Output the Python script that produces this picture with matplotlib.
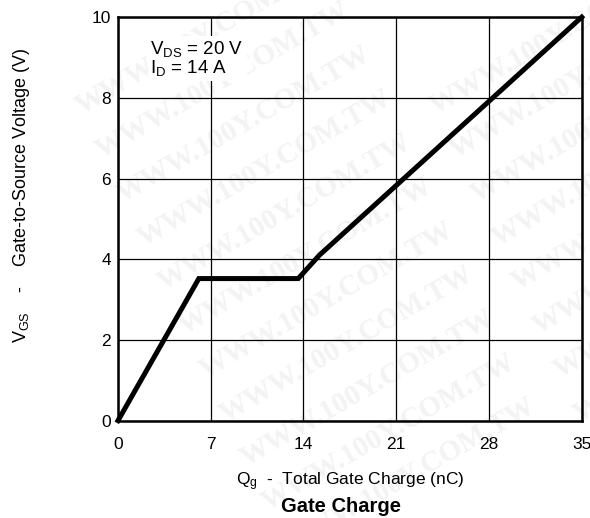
import matplotlib
matplotlib.use("Agg")
import matplotlib.pyplot as plt

plt.rcParams['font.family'] = ['Liberation Sans', 'DejaVu Sans']
plt.rcParams['mathtext.fontset'] = 'custom'
plt.rcParams['mathtext.rm'] = 'Liberation Sans'
plt.rcParams['mathtext.it'] = 'Liberation Sans:italic'

# gate charge curve
qg = [0, 6.1, 13.6, 15.2, 35]
vgs = [0, 3.52, 3.52, 4.1, 10]

x_ticks = [0, 7, 14, 21, 28, 35]
y_ticks = [0, 2, 4, 6, 8, 10]

fig = plt.figure(figsize=(5.9, 5.18), dpi=100)

# faint watermark behind everything
wm = "WWW.100Y.COM.TW"
for i in range(11):
    fig.text(0.12 + 0.035 * i, 0.93 - 0.085 * i, wm, rotation=30,
             fontsize=21, family='Liberation Serif', weight='bold',
             color='#f3f3f3', ha='left', va='center', zorder=-5)
for i in range(9):
    fig.text(0.72 + 0.035 * i, 0.93 - 0.085 * i, wm, rotation=30,
             fontsize=21, family='Liberation Serif', weight='bold',
             color='#f3f3f3', ha='left', va='center', zorder=-5)

ax = fig.add_axes([0.2, 0.188, 0.786, 0.779])
ax.set_zorder(1)
ax.patch.set_alpha(0)
ax.plot(qg, vgs, color='black', linewidth=3.6, solid_joinstyle='miter',
        clip_on=False, zorder=3)

ax.set_xlim(0, 35)
ax.set_ylim(0, 10)
ax.set_xticks(x_ticks)
ax.set_yticks(y_ticks)
ax.tick_params(length=0, labelsize=12.5)
ax.tick_params(axis='x', pad=12)
ax.tick_params(axis='y', pad=5)
ax.grid(color='black', linewidth=0.9)
for s in ax.spines.values():
    s.set_linewidth(1.8)

ax.text(0.07, 0.945, "$\\mathrm{V_{DS}}$ = 20 V\n$\\mathrm{I_D}$ = 14 A",
        transform=ax.transAxes, fontsize=13.5, va='top', ha='left',
        linespacing=0.9,
        bbox=dict(facecolor='white', edgecolor='none', pad=2), zorder=4)

ax.set_xlabel("$\\mathrm{Q_g}$  -  Total Gate Charge (nC)", fontsize=12.5,
              labelpad=13)
ax.set_ylabel("$\\mathrm{V_{GS}}$    -    Gate-to-Source Voltage (V)",
              fontsize=13)
ax.yaxis.set_label_coords(-0.185, 0.56)
fig.text(0.578, 0.004, "Gate Charge", fontsize=14.5, weight='bold',
         ha='center', va='bottom')

fig.savefig("out.png", dpi=100)
